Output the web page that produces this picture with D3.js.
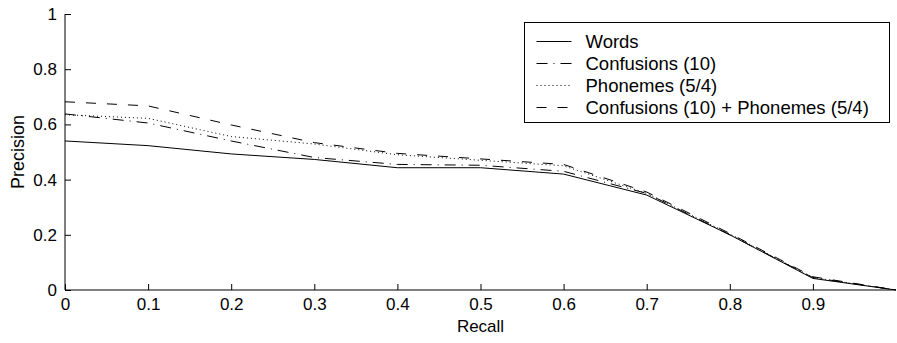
<!DOCTYPE html>
<html>
<head>
<meta charset="utf-8">
<script src="https://cdn.jsdelivr.net/npm/d3@7"></script>
<style>
  html, body { margin: 0; padding: 0; background: #fff; }
  svg { display: block; font-family: "Liberation Sans", Arial, Helvetica, sans-serif; }
</style>
</head>
<body>
<svg id="chart" width="897" height="343"></svg>
<script>
// Recall levels (x) and interpolated precision for each retrieval setup
const recall = [0, 0.1, 0.2, 0.3, 0.4, 0.5, 0.6, 0.7, 0.8, 0.9, 1.0];
const words = [0.54, 0.523, 0.493, 0.473, 0.443, 0.443, 0.42, 0.344, 0.20, 0.042, 0.0];
const confusions = [0.638, 0.605, 0.54, 0.48, 0.455, 0.452, 0.43, 0.35, 0.20, 0.045, 0.0];
const phonemes = [0.635, 0.622, 0.556, 0.529, 0.49, 0.47, 0.45, 0.35, 0.203, 0.045, 0.0];
const combined = [0.682, 0.667, 0.598, 0.534, 0.495, 0.475, 0.455, 0.355, 0.205, 0.048, 0.0];

const seriesNames = ["Words", "Confusions (10)", "Phonemes (5/4)", "Confusions (10) + Phonemes (5/4)"];
const xTicks = [0, 0.1, 0.2, 0.3, 0.4, 0.5, 0.6, 0.7, 0.8, 0.9];
const yTicks = [0, 0.2, 0.4, 0.6, 0.8, 1];

const series = [
  { name: seriesNames[0], values: words, dash: null },
  { name: seriesNames[1], values: confusions, dash: "11,6,1,6" },
  { name: seriesNames[2], values: phonemes, dash: "1,3" },
  { name: seriesNames[3], values: combined, dash: "10,11" }
];

const svg = d3.select("#chart");
const m = { left: 65, right: 1, top: 14, bottom: 53 };
const W = 897, H = 343;

const x = d3.scaleLinear().domain([0, 1]).range([m.left, W - m.right]);
const y = d3.scaleLinear().domain([0, 1]).range([H - m.bottom, m.top]);

const fmt = d => d === 0 ? "0" : d === 1 ? "1" : d3.format(".1f")(d);

// x axis, ticks pointing into the plot
const gx = svg.append("g")
  .attr("transform", `translate(0,${y(0)})`)
  .call(d3.axisBottom(x).tickValues(xTicks).tickSize(-6).tickPadding(8).tickFormat(fmt));
gx.select(".domain").attr("stroke", "#000").attr("d", `M${x(0)},0H${x(1)}`);
gx.selectAll(".tick line").attr("stroke", "#000");
gx.selectAll(".tick text").attr("font-size", 17).attr("fill", "#000").attr("font-family", null);

// y axis, ticks pointing into the plot
const gy = svg.append("g")
  .attr("transform", `translate(${x(0)},0)`)
  .call(d3.axisLeft(y).tickValues(yTicks).tickSize(-6).tickPadding(8).tickFormat(fmt));
gy.select(".domain").attr("stroke", "#000").attr("d", `M0,${y(0)}V${y(1)}`);
gy.selectAll(".tick line").attr("stroke", "#000");
gy.selectAll(".tick text").attr("font-size", 17).attr("fill", "#000").attr("font-family", null);

// axis titles
svg.append("text")
  .attr("x", (x(0) + x(1)) / 2).attr("y", 332)
  .attr("text-anchor", "middle").attr("font-size", 17).text("Recall");
svg.append("text")
  .attr("transform", `translate(24,${(y(0) + y(1)) / 2}) rotate(-90)`)
  .attr("text-anchor", "middle").attr("font-size", 18).text("Precision");

// curves
const line = d3.line()
  .x((d, i) => x(recall[i]))
  .y(d => y(d));

svg.append("g").selectAll("path")
  .data(series)
  .join("path")
  .attr("d", d => line(d.values))
  .attr("fill", "none")
  .attr("stroke", "#000")
  .attr("stroke-width", 1)
  .attr("stroke-dasharray", d => d.dash);

// legend
const lg = svg.append("g").attr("transform", "translate(524.5,22.5)");
lg.append("rect").attr("width", 365).attr("height", 100)
  .attr("fill", "#fff").attr("stroke", "#000").attr("stroke-width", 1);
const rows = lg.selectAll("g.row").data(series).join("g")
  .attr("class", "row")
  .attr("transform", (d, i) => `translate(0,${19 + i * 22})`);
rows.append("line")
  .attr("x1", 12).attr("x2", 47).attr("y1", 0).attr("y2", 0)
  .attr("stroke", "#000").attr("stroke-width", 1)
  .attr("stroke-dasharray", d => d.dash);
rows.append("text")
  .attr("x", 61).attr("y", 0).attr("dy", "0.35em")
  .attr("font-size", 18.5).text(d => d.name);
</script>
</body>
</html>
